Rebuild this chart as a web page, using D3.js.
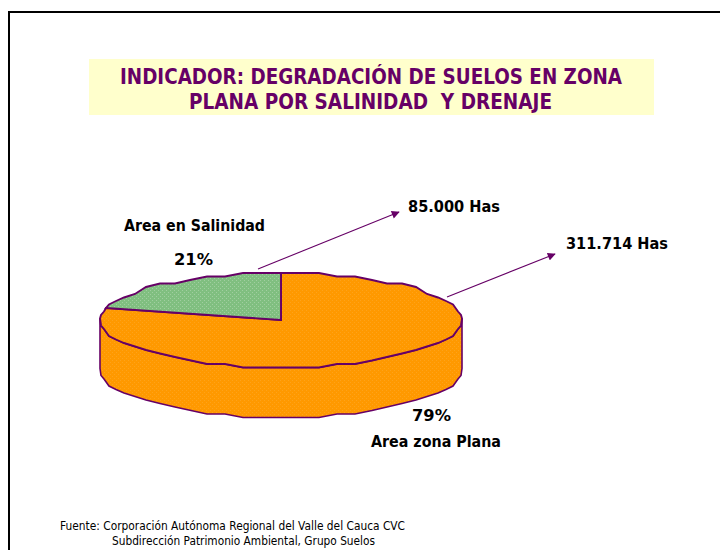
<!DOCTYPE html>
<html><head><meta charset="utf-8">
<script src="https://cdn.jsdelivr.net/npm/d3@7"></script>
<style>html,body{margin:0;padding:0;background:#fff}svg{display:block}</style>
</head><body><svg id="c" width="720" height="550"></svg>
<script>
// Data
const categories = ["Area zona Plana", "Area en Salinidad"];
const percents = [79, 21];
const hectareLabels = ["311.714 Has", "85.000 Has"];
const titleLines = ["INDICADOR: DEGRADACIÓN DE SUELOS EN ZONA", "PLANA POR SALINIDAD  Y DRENAJE"];
const sourceLines = ["Fuente: Corporación Autónoma Regional del Valle del Cauca CVC", "Subdirección Patrimonio Ambiental, Grupo Suelos"];
const sliceColors = ["#FF9900", "#80BF80"];

const INK = "#660066";
const svg = d3.select("#c");
const defs = svg.append("defs");

// stipple fills
sliceColors.forEach((col, i) => {
  const p = defs.append("pattern").attr("id", "stip" + i).attr("patternUnits", "userSpaceOnUse")
    .attr("width", 4).attr("height", 4);
  p.append("rect").attr("width", 4).attr("height", 4).attr("fill", col);
  [[0, 0], [2, 2]].forEach(([x, y]) =>
    p.append("rect").attr("x", x).attr("y", y).attr("width", 1).attr("height", 1)
      .attr("fill", "#fff").attr("opacity", i ? 0.25 : 0.1));
});
const mk = defs.append("marker").attr("id", "arrow").attr("viewBox", "0 0 10 10").attr("refX", 9).attr("refY", 5)
  .attr("markerUnits", "userSpaceOnUse").attr("markerWidth", 9).attr("markerHeight", 8).attr("orient", "auto");
mk.append("path").attr("d", "M0,0L10,5L0,10Z").attr("fill", INK);

// page frame
svg.append("path").attr("d", "M720,12H9V550").attr("fill", "none").attr("stroke", "#000").attr("stroke-width", 2);

// title
svg.append("rect").attr("x", 89).attr("y", 59).attr("width", 565).attr("height", 56).attr("fill", "#FFFFCC");
svg.append("g").selectAll("text").data(titleLines).join("text")
  .attr("x", (d, i) => i ? 189 : 120).attr("y", (d, i) => 84 + i * 24.5)
  .attr("font-family", "'DejaVu Sans'").attr("font-weight", 700).attr("font-size", 21.5)
  .attr("textLength", (d, i) => i ? 363 : 502).attr("lengthAdjust", "spacingAndGlyphs")
  .attr("fill", INK).style("white-space", "pre").text(d => d);

// 3D pie
const cx = 281, cy = 320, rx = 181, ry = 47, depth = 50;
const xS = d3.scaleLinear().domain([-1, 1]).range([cx - rx, cx + rx]);
const yS = d3.scaleLinear().domain([-1, 1]).range([cy - ry, cy + ry]);
const arcs = d3.pie().sort(null).startAngle(0).endAngle(2 * Math.PI)(percents);
const STEP = Math.PI / 30, GRID = 3.5;
const px = (a, dy = 0) => [Math.round(xS(Math.sin(a))),
  Math.round(yS(-Math.cos(a)) / GRID) * GRID + dy];
const samples = (a0, a1, dy = 0) => {
  const out = [px(a0, dy)];
  const k0 = Math.floor(a0 / STEP) + 1;
  for (let k = k0; k * STEP < a1 - 1e-6; k++) out.push(px(k * STEP, dy));
  out.push(px(a1, dy));
  return out;
};
const line = d3.line().curve(d3.curveLinear);

// side wall: lower half of the rim
const front = samples(Math.PI / 2, 3 * Math.PI / 2);
const wall = front.concat(samples(Math.PI / 2, 3 * Math.PI / 2, depth).reverse());
svg.append("path").attr("d", line(wall) + "Z")
  .attr("fill", "url(#stip0)").attr("stroke", INK).attr("stroke-width", 1.6).attr("stroke-linejoin", "miter");

// top slices
svg.append("g").selectAll("path").data(arcs).join("path")
  .attr("d", d => line([[xS(0), yS(0)], ...samples(d.startAngle, d.endAngle)]) + "Z")
  .attr("fill", (d, i) => `url(#stip${i})`).attr("stroke", INK).attr("stroke-width", 1.9).attr("stroke-linejoin", "miter");

// leader arrows
const leaders = [[447, 297, 555, 254], [258, 269, 399, 212]];
svg.append("g").selectAll("line").data(leaders).join("line")
  .attr("x1", d => d[0]).attr("y1", d => d[1]).attr("x2", d => d[2]).attr("y2", d => d[3])
  .attr("stroke", INK).attr("stroke-width", 1.1).attr("marker-end", "url(#arrow)");

// labels
const lab = (t, x, y, len) => svg.append("text").attr("x", x).attr("y", y)
  .attr("font-family", "'DejaVu Sans'").attr("font-weight", 700).attr("font-size", 16)
  .attr("textLength", len).attr("lengthAdjust", "spacingAndGlyphs").attr("fill", "#000").text(t);
lab(categories[1], 124, 231, 141);
lab(percents[1] + "%", 174, 265, 39);
lab(hectareLabels[1], 408, 212, 92);
lab(hectareLabels[0], 566, 249, 102);
lab(percents[0] + "%", 412, 421, 39);
lab(categories[0], 371, 447, 130);

// source
svg.append("g").selectAll("text").data(sourceLines).join("text")
  .attr("x", (d, i) => i ? 112 : 60).attr("y", (d, i) => 530 + i * 15)
  .attr("font-family", "'DejaVu Sans'").attr("font-size", 12).attr("fill", "#000")
  .attr("textLength", (d, i) => i ? 263 : 345).attr("lengthAdjust", "spacingAndGlyphs").text(d => d);
</script></body></html>
